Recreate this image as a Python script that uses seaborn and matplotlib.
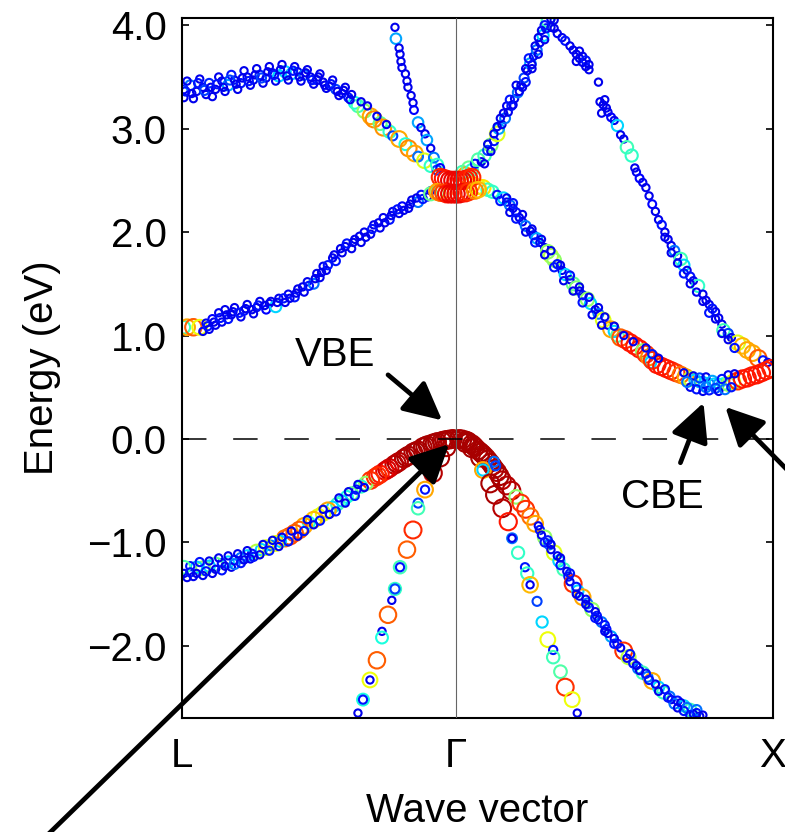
import matplotlib
matplotlib.use("Agg")
import matplotlib.pyplot as plt
import pandas as pd
import seaborn as sns

# k-path L -> Gamma -> X in units of 2*pi/a (|L-Gamma| = sqrt(3)/2)
K_L, K_G, K_X = -0.866, 0.0, 1.0
k_ticks = [K_L, K_G, K_X]
k_tick_labels = ["L", "Γ", "X"]
e_ticks = [-2.0, -1.0, 0.0, 1.0, 2.0, 3.0, 4.0]
e_tick_labels = ["−2.0", "−1.0", "0.0", "1.0", "2.0", "3.0", "4.0"]
E_MIN, E_MAX = -2.693, 4.07

# Unfolded bands: (k, energy [eV], Bloch spectral weight 0..1)
cb_upper_left = [
    (-0.86, 3.38, 0.08), (-0.84, 3.42, 0.2), (-0.82, 3.36, 0.05), (-0.80, 3.40, 0.05),
    (-0.78, 3.44, 0.12), (-0.76, 3.38, 0.05), (-0.74, 3.46, 0.05), (-0.72, 3.42, 0.25),
    (-0.70, 3.47, 0.05), (-0.68, 3.44, 0.1), (-0.66, 3.50, 0.05), (-0.64, 3.47, 0.05),
    (-0.62, 3.52, 0.12), (-0.60, 3.49, 0.05), (-0.58, 3.54, 0.05), (-0.56, 3.51, 0.3),
    (-0.54, 3.55, 0.3), (-0.52, 3.53, 0.28), (-0.50, 3.55, 0.05), (-0.48, 3.52, 0.2),
    (-0.46, 3.50, 0.05), (-0.44, 3.47, 0.1), (-0.42, 3.45, 0.05), (-0.40, 3.41, 0.05),
    (-0.38, 3.38, 0.15), (-0.36, 3.34, 0.05), (-0.34, 3.30, 0.1), (-0.32, 3.25, 0.35),
    (-0.31, 3.22, 0.4), (-0.29, 3.17, 0.5), (-0.27, 3.12, 0.72), (-0.26, 3.09, 0.75),
    (-0.24, 3.05, 0.45), (-0.23, 3.01, 0.74), (-0.21, 2.97, 0.38), (-0.20, 2.93, 0.15),
    (-0.18, 2.90, 0.72), (-0.16, 2.85, 0.35), (-0.15, 2.81, 0.75), (-0.13, 2.76, 0.72),
    (-0.12, 2.73, 0.2), (-0.10, 2.69, 0.6), (-0.08, 2.64, 0.38), (-0.06, 2.60, 0.15),
    (-0.86, 3.30, 0.05), (-0.85, 3.46, 0.05), (-0.83, 3.29, 0.05), (-0.81, 3.48, 0.05),
    (-0.79, 3.33, 0.05), (-0.77, 3.31, 0.05), (-0.75, 3.50, 0.05), (-0.73, 3.36, 0.05),
    (-0.71, 3.52, 0.1), (-0.69, 3.38, 0.05), (-0.67, 3.56, 0.05), (-0.65, 3.42, 0.05),
    (-0.63, 3.58, 0.05), (-0.61, 3.44, 0.05), (-0.59, 3.60, 0.05), (-0.57, 3.46, 0.05),
    (-0.55, 3.62, 0.05), (-0.53, 3.47, 0.05), (-0.51, 3.60, 0.05), (-0.49, 3.46, 0.05),
    (-0.47, 3.57, 0.05), (-0.45, 3.43, 0.05), (-0.43, 3.53, 0.05), (-0.41, 3.39, 0.05),
    (-0.39, 3.47, 0.05), (-0.37, 3.32, 0.05), (-0.35, 3.40, 0.05), (-0.33, 3.33, 0.05),
    (-0.30, 3.26, 0.05), (-0.28, 3.22, 0.05), (-0.25, 3.12, 0.05), (-0.22, 3.04, 0.05),
    (-0.855, 3.36, 0.1), (-0.835, 3.34, 0.05), (-0.815, 3.44, 0.1), (-0.795, 3.37, 0.15),
    (-0.775, 3.40, 0.05), (-0.755, 3.43, 0.1), (-0.735, 3.40, 0.05), (-0.715, 3.47, 0.15),
    (-0.695, 3.43, 0.05), (-0.675, 3.49, 0.05), (-0.655, 3.46, 0.1), (-0.635, 3.52, 0.05),
    (-0.615, 3.49, 0.15), (-0.595, 3.55, 0.05), (-0.575, 3.52, 0.1), (-0.555, 3.57, 0.05),
    (-0.535, 3.51, 0.05), (-0.515, 3.56, 0.1), (-0.495, 3.50, 0.05), (-0.475, 3.54, 0.05),
    (-0.455, 3.47, 0.1), (-0.435, 3.50, 0.05), (-0.415, 3.42, 0.05), (-0.395, 3.43, 0.1),
    (-0.375, 3.36, 0.05), (-0.355, 3.37, 0.05), (-0.335, 3.28, 0.05),
]

cb_lower_left = [
    (-0.86, 1.08, 0.4), (-0.85, 1.08, 0.72), (-0.83, 1.08, 0.8), (-0.81, 1.08, 0.62),
    (-0.80, 1.04, 0.05), (-0.79, 1.12, 0.05), (-0.78, 1.06, 0.05), (-0.77, 1.16, 0.08),
    (-0.76, 1.10, 0.05), (-0.75, 1.22, 0.05), (-0.74, 1.13, 0.05), (-0.73, 1.25, 0.05),
    (-0.72, 1.16, 0.1), (-0.71, 1.20, 0.05), (-0.70, 1.27, 0.05), (-0.68, 1.18, 0.05),
    (-0.67, 1.24, 0.1), (-0.66, 1.30, 0.05), (-0.64, 1.21, 0.05), (-0.63, 1.27, 0.05),
    (-0.62, 1.33, 0.05), (-0.60, 1.25, 0.08), (-0.59, 1.31, 0.05), (-0.57, 1.28, 0.3),
    (-0.56, 1.36, 0.05), (-0.54, 1.32, 0.05), (-0.53, 1.40, 0.05), (-0.51, 1.37, 0.1),
    (-0.50, 1.45, 0.05), (-0.48, 1.42, 0.05), (-0.47, 1.52, 0.05), (-0.45, 1.50, 0.2),
    (-0.44, 1.60, 0.05), (-0.43, 1.56, 0.05), (-0.42, 1.67, 0.05), (-0.41, 1.63, 0.05),
    (-0.39, 1.75, 0.05), (-0.38, 1.72, 0.1), (-0.36, 1.80, 0.05), (-0.35, 1.86, 0.05),
    (-0.33, 1.84, 0.05), (-0.32, 1.93, 0.05), (-0.30, 1.90, 0.05), (-0.29, 2.00, 0.05),
    (-0.27, 1.98, 0.05), (-0.26, 2.07, 0.05), (-0.24, 2.04, 0.05), (-0.23, 2.14, 0.05),
    (-0.21, 2.12, 0.1), (-0.20, 2.20, 0.05), (-0.18, 2.18, 0.05), (-0.17, 2.25, 0.08),
    (-0.15, 2.23, 0.05), (-0.14, 2.31, 0.05), (-0.12, 2.29, 0.2), (-0.11, 2.36, 0.1),
    (-0.09, 2.34, 0.05), (-0.08, 2.40, 0.05), (-0.06, 2.38, 0.48),
    (-0.785, 1.09, 0.1), (-0.765, 1.13, 0.05), (-0.745, 1.17, 0.1), (-0.725, 1.20, 0.05),
    (-0.705, 1.23, 0.05), (-0.685, 1.22, 0.1), (-0.665, 1.26, 0.05), (-0.645, 1.25, 0.05),
    (-0.625, 1.29, 0.1), (-0.605, 1.29, 0.05), (-0.585, 1.33, 0.05), (-0.565, 1.32, 0.05),
    (-0.545, 1.36, 0.1), (-0.525, 1.36, 0.05), (-0.505, 1.41, 0.05), (-0.485, 1.47, 0.05),
    (-0.465, 1.48, 0.1), (-0.445, 1.55, 0.05), (-0.425, 1.61, 0.05), (-0.405, 1.68, 0.1),
    (-0.385, 1.78, 0.05), (-0.365, 1.84, 0.05), (-0.345, 1.89, 0.1), (-0.325, 1.90, 0.05),
    (-0.305, 1.96, 0.05), (-0.285, 1.95, 0.05), (-0.265, 2.03, 0.1), (-0.245, 2.09, 0.05),
    (-0.225, 2.09, 0.05), (-0.205, 2.16, 0.05), (-0.185, 2.22, 0.1), (-0.165, 2.21, 0.05),
    (-0.145, 2.27, 0.05), (-0.125, 2.33, 0.05), (-0.105, 2.32, 0.1),
]

cb_steep_left = [
    (-0.193, 3.98, 0.05), (-0.19, 3.87, 0.25), (-0.18, 3.78, 0.05), (-0.177, 3.72, 0.05),
    (-0.174, 3.65, 0.05), (-0.171, 3.59, 0.05), (-0.16, 3.53, 0.05), (-0.155, 3.46, 0.05),
    (-0.152, 3.40, 0.05), (-0.142, 3.32, 0.05), (-0.136, 3.25, 0.05), (-0.133, 3.18, 0.08),
    (-0.12, 3.06, 0.25), (-0.111, 3.01, 0.05), (-0.098, 2.95, 0.05), (-0.092, 2.89, 0.25),
    (-0.08, 2.81, 0.05), (-0.07, 2.72, 0.2), (-0.06, 2.65, 0.38), (-0.05, 2.62, 0.08),
]

cb_gamma = [
    (-0.05, 2.53, 0.86), (-0.04, 2.52, 0.88), (-0.03, 2.51, 0.88), (-0.02, 2.50, 0.9),
    (-0.01, 2.50, 0.9), (0.0, 2.50, 0.9), (0.01, 2.50, 0.9), (0.02, 2.50, 0.9),
    (0.03, 2.51, 0.88), (0.04, 2.52, 0.88), (0.05, 2.53, 0.86),
    (-0.08, 2.37, 0.45), (-0.06, 2.39, 0.72), (-0.05, 2.38, 0.78), (-0.04, 2.38, 0.82),
    (-0.03, 2.37, 0.88), (-0.02, 2.37, 0.9), (-0.01, 2.37, 0.9), (0.0, 2.37, 0.9),
    (0.01, 2.37, 0.9), (0.02, 2.38, 0.9), (0.03, 2.38, 0.88), (0.04, 2.39, 0.85),
    (0.06, 2.40, 0.75), (0.07, 2.41, 0.7),
]

cb_upper_right = [
    (0.02, 2.58, 0.4), (0.03, 2.55, 0.72), (0.04, 2.62, 0.45), (0.05, 2.60, 0.38),
    (0.06, 2.66, 0.1), (0.07, 2.70, 0.42), (0.08, 2.68, 0.05), (0.09, 2.74, 0.4),
    (0.10, 2.79, 0.15), (0.11, 2.84, 0.48), (0.12, 2.88, 0.1), (0.13, 2.95, 0.6),
    (0.135, 3.00, 0.25), (0.145, 3.04, 0.05), (0.155, 3.10, 0.2), (0.165, 3.16, 0.05),
    (0.175, 3.22, 0.1), (0.185, 3.29, 0.05), (0.195, 3.35, 0.2), (0.205, 3.42, 0.05),
    (0.215, 3.49, 0.15), (0.225, 3.56, 0.05), (0.235, 3.63, 0.25), (0.245, 3.70, 0.05),
    (0.255, 3.76, 0.2), (0.265, 3.83, 0.05), (0.275, 3.90, 0.3), (0.285, 3.97, 0.1),
    (0.29, 4.04, 0.4), (0.30, 4.06, 0.05),
    (0.09, 2.66, 0.05), (0.12, 2.95, 0.05), (0.14, 3.10, 0.05), (0.16, 3.22, 0.05),
    (0.18, 3.23, 0.05), (0.20, 3.36, 0.05), (0.22, 3.58, 0.05), (0.22, 3.45, 0.1),
    (0.24, 3.62, 0.05), (0.25, 3.80, 0.05), (0.26, 3.72, 0.05), (0.27, 3.95, 0.05),
    (0.28, 3.86, 0.05), (0.30, 3.98, 0.05), (0.31, 4.05, 0.05),
    (0.10, 2.85, 0.05), (0.11, 2.78, 0.05), (0.13, 3.02, 0.05), (0.15, 3.15, 0.05),
    (0.17, 3.28, 0.1), (0.19, 3.42, 0.05), (0.21, 3.40, 0.05), (0.23, 3.68, 0.1),
    (0.24, 3.58, 0.05), (0.26, 3.88, 0.05), (0.28, 4.00, 0.1),
    (0.31, 3.97, 0.05), (0.32, 3.92, 0.05), (0.335, 3.88, 0.05), (0.345, 3.85, 0.1),
    (0.36, 3.80, 0.05), (0.37, 3.76, 0.05), (0.38, 3.72, 0.05), (0.39, 3.68, 0.05),
    (0.40, 3.64, 0.05), (0.41, 3.60, 0.05), (0.42, 3.57, 0.05), (0.45, 3.45, 0.05),
    (0.38, 3.65, 0.05), (0.39, 3.75, 0.05), (0.40, 3.70, 0.05), (0.41, 3.66, 0.1),
    (0.42, 3.62, 0.05),
    (0.455, 3.26, 0.05), (0.465, 3.23, 0.05), (0.475, 3.20, 0.05), (0.48, 3.16, 0.05),
    (0.46, 3.15, 0.05), (0.47, 3.28, 0.05),
    (0.49, 3.11, 0.08), (0.50, 3.08, 0.05), (0.51, 3.03, 0.3), (0.52, 2.94, 0.05),
    (0.53, 2.90, 0.05), (0.54, 2.82, 0.4), (0.555, 2.74, 0.38), (0.565, 2.62, 0.05),
    (0.57, 2.58, 0.05), (0.58, 2.52, 0.08), (0.59, 2.48, 0.05), (0.60, 2.43, 0.05),
    (0.61, 2.35, 0.05), (0.62, 2.27, 0.08), (0.63, 2.20, 0.05), (0.64, 2.12, 0.05),
    (0.65, 2.07, 0.1), (0.66, 2.00, 0.05), (0.67, 1.93, 0.05), (0.68, 1.87, 0.05),
    (0.69, 1.82, 0.2), (0.70, 1.77, 0.05), (0.71, 1.74, 0.4), (0.72, 1.68, 0.3),
    (0.73, 1.63, 0.05), (0.74, 1.57, 0.1), (0.75, 1.53, 0.05), (0.765, 1.48, 0.38),
    (0.78, 1.40, 0.05), (0.79, 1.34, 0.05), (0.80, 1.30, 0.05), (0.81, 1.26, 0.1),
    (0.82, 1.23, 0.05), (0.83, 1.17, 0.05), (0.84, 1.11, 0.05), (0.845, 1.05, 0.4),
    (0.86, 1.02, 0.15), (0.87, 0.98, 0.05), (0.89, 0.93, 0.6), (0.905, 0.90, 0.7),
    (0.92, 0.86, 0.72), (0.937, 0.83, 0.72), (0.955, 0.78, 0.8), (0.97, 0.76, 0.1),
    (0.985, 0.74, 0.05),
    (0.66, 1.95, 0.05), (0.68, 1.80, 0.05), (0.70, 1.70, 0.05), (0.72, 1.60, 0.1),
    (0.74, 1.50, 0.05), (0.76, 1.42, 0.05), (0.78, 1.33, 0.05), (0.80, 1.22, 0.1),
    (0.82, 1.16, 0.05), (0.84, 1.02, 0.05), (0.86, 0.96, 0.05), (0.88, 0.88, 0.1),
]

cb_lower_right = [
    (0.05, 2.46, 0.72), (0.07, 2.44, 0.6), (0.085, 2.43, 0.65), (0.10, 2.41, 0.4),
    (0.115, 2.39, 0.38), (0.13, 2.36, 0.1), (0.15, 2.33, 0.3), (0.16, 2.29, 0.05),
    (0.17, 2.26, 0.2), (0.18, 2.23, 0.05), (0.19, 2.19, 0.1), (0.20, 2.14, 0.05),
    (0.21, 2.10, 0.05), (0.22, 2.06, 0.2), (0.235, 2.01, 0.05), (0.245, 1.97, 0.1),
    (0.255, 1.94, 0.25), (0.265, 1.90, 0.05), (0.28, 1.85, 0.05), (0.29, 1.81, 0.5),
    (0.30, 1.77, 0.55), (0.31, 1.73, 0.5), (0.32, 1.69, 0.1), (0.335, 1.63, 0.05),
    (0.345, 1.59, 0.3), (0.36, 1.54, 0.05), (0.37, 1.50, 0.45), (0.38, 1.46, 0.48),
    (0.39, 1.43, 0.05), (0.40, 1.39, 0.1), (0.415, 1.35, 0.5), (0.425, 1.31, 0.3),
    (0.44, 1.25, 0.05), (0.45, 1.21, 0.2), (0.465, 1.15, 0.6), (0.48, 1.10, 0.05),
    (0.49, 1.06, 0.72), (0.50, 1.04, 0.3), (0.51, 1.00, 0.42), (0.52, 0.98, 0.8),
    (0.535, 0.96, 0.85), (0.55, 0.93, 0.88), (0.565, 0.90, 0.88), (0.58, 0.87, 0.88),
    (0.59, 0.85, 0.5), (0.60, 0.82, 0.85), (0.61, 0.79, 0.75), (0.615, 0.74, 0.3),
    (0.62, 0.76, 0.85), (0.635, 0.72, 0.88), (0.65, 0.70, 0.88), (0.665, 0.68, 0.88),
    (0.68, 0.66, 0.88), (0.695, 0.64, 0.85), (0.71, 0.62, 0.78), (0.725, 0.60, 0.72),
    (0.74, 0.58, 0.55), (0.755, 0.57, 0.3), (0.77, 0.55, 0.25), (0.785, 0.54, 0.3),
    (0.80, 0.53, 0.2), (0.815, 0.53, 0.3), (0.83, 0.53, 0.25), (0.845, 0.53, 0.35),
    (0.86, 0.53, 0.5), (0.875, 0.55, 0.6), (0.89, 0.56, 0.85), (0.905, 0.58, 0.88),
    (0.92, 0.59, 0.88), (0.935, 0.61, 0.88), (0.95, 0.62, 0.88), (0.965, 0.64, 0.88),
    (0.98, 0.66, 0.88), (0.995, 0.68, 0.87),
    (0.74, 0.50, 0.05), (0.75, 0.61, 0.05), (0.76, 0.48, 0.1), (0.77, 0.59, 0.15),
    (0.78, 0.46, 0.05), (0.79, 0.50, 0.2), (0.79, 0.60, 0.05), (0.80, 0.47, 0.1),
    (0.81, 0.56, 0.25), (0.82, 0.49, 0.15), (0.83, 0.46, 0.05), (0.84, 0.58, 0.1),
    (0.85, 0.48, 0.2), (0.86, 0.62, 0.05), (0.87, 0.50, 0.1), (0.88, 0.63, 0.05),
    (0.72, 0.64, 0.05), (0.73, 0.55, 0.2),
    (0.16, 2.33, 0.05), (0.18, 2.28, 0.1), (0.21, 2.17, 0.05), (0.24, 2.03, 0.05),
    (0.27, 1.93, 0.05), (0.30, 1.82, 0.05), (0.33, 1.68, 0.05), (0.36, 1.58, 0.1),
    (0.39, 1.47, 0.05), (0.42, 1.37, 0.05), (0.45, 1.27, 0.05), (0.47, 1.18, 0.05),
    (0.50, 1.09, 0.05), (0.53, 1.00, 0.05), (0.56, 0.94, 0.05), (0.60, 0.88, 0.05),
    (0.62, 0.82, 0.1), (0.64, 0.78, 0.05),
    (0.14, 2.30, 0.1), (0.17, 2.19, 0.05), (0.19, 2.13, 0.1), (0.22, 2.00, 0.05),
    (0.25, 1.90, 0.1), (0.28, 1.78, 0.05), (0.31, 1.66, 0.1), (0.34, 1.53, 0.05),
    (0.37, 1.43, 0.05), (0.40, 1.32, 0.1), (0.43, 1.20, 0.05), (0.46, 1.10, 0.05),
]

vb_heavy_left = [
    (-0.01, 0.00, 0.96), (-0.02, -0.005, 0.96), (-0.03, -0.01, 0.96), (-0.045, -0.02, 0.96),
    (-0.06, -0.03, 0.96), (-0.075, -0.045, 0.96), (-0.09, -0.06, 0.96), (-0.105, -0.08, 0.96),
    (-0.12, -0.11, 0.96), (-0.135, -0.13, 0.96), (-0.15, -0.16, 0.96), (-0.165, -0.19, 0.95),
    (-0.18, -0.22, 0.95), (-0.195, -0.25, 0.95), (-0.21, -0.28, 0.93), (-0.225, -0.31, 0.9),
    (-0.24, -0.34, 0.88), (-0.255, -0.37, 0.85), (-0.27, -0.40, 0.85), (-0.285, -0.43, 0.5),
    (-0.30, -0.46, 0.38), (-0.315, -0.49, 0.1), (-0.33, -0.53, 0.45), (-0.345, -0.56, 0.35),
    (-0.36, -0.60, 0.3), (-0.375, -0.63, 0.4), (-0.39, -0.66, 0.3), (-0.405, -0.69, 0.72),
    (-0.42, -0.72, 0.6), (-0.435, -0.75, 0.62), (-0.45, -0.78, 0.7), (-0.465, -0.81, 0.35),
    (-0.48, -0.84, 0.72), (-0.495, -0.88, 0.8), (-0.51, -0.91, 0.8), (-0.525, -0.94, 0.82),
    (-0.54, -0.96, 0.78), (-0.555, -0.99, 0.3), (-0.57, -1.01, 0.62), (-0.585, -1.03, 0.2),
    (-0.60, -1.05, 0.6), (-0.615, -1.07, 0.3), (-0.63, -1.09, 0.55), (-0.645, -1.11, 0.1),
    (-0.66, -1.13, 0.3), (-0.68, -1.15, 0.2), (-0.70, -1.17, 0.1), (-0.72, -1.19, 0.3),
    (-0.74, -1.20, 0.1), (-0.76, -1.21, 0.45), (-0.78, -1.23, 0.3), (-0.80, -1.25, 0.5),
    (-0.82, -1.24, 0.3), (-0.84, -1.23, 0.1), (-0.86, -1.24, 0.42),
    (-0.0375, -0.015, 0.96), (-0.0675, -0.04, 0.96), (-0.0975, -0.07, 0.96),
    (-0.1275, -0.12, 0.96), (-0.1575, -0.175, 0.96), (-0.1875, -0.235, 0.95),
    (-0.2175, -0.295, 0.92), (-0.2475, -0.355, 0.86),
    (-0.86, -1.30, 0.05), (-0.85, -1.34, 0.05), (-0.84, -1.29, 0.1), (-0.83, -1.33, 0.05),
    (-0.82, -1.30, 0.05), (-0.81, -1.19, 0.1), (-0.80, -1.32, 0.05), (-0.79, -1.28, 0.1),
    (-0.78, -1.18, 0.05), (-0.77, -1.30, 0.05), (-0.76, -1.26, 0.05), (-0.75, -1.15, 0.05),
    (-0.74, -1.27, 0.1), (-0.73, -1.23, 0.05), (-0.72, -1.13, 0.05), (-0.71, -1.24, 0.05),
    (-0.70, -1.21, 0.2), (-0.69, -1.11, 0.05), (-0.68, -1.20, 0.1), (-0.67, -1.17, 0.05),
    (-0.66, -1.08, 0.05), (-0.65, -1.16, 0.05), (-0.64, -1.14, 0.1), (-0.62, -1.12, 0.05),
    (-0.61, -1.02, 0.05), (-0.59, -1.08, 0.1), (-0.58, -0.98, 0.05), (-0.56, -1.04, 0.05),
    (-0.55, -0.95, 0.05), (-0.53, -0.99, 0.1), (-0.52, -0.89, 0.05), (-0.50, -0.94, 0.05),
    (-0.48, -0.89, 0.1), (-0.47, -0.78, 0.05), (-0.45, -0.83, 0.05), (-0.43, -0.79, 0.1),
    (-0.42, -0.68, 0.05), (-0.40, -0.73, 0.05), (-0.38, -0.70, 0.1), (-0.37, -0.57, 0.05),
    (-0.35, -0.62, 0.05), (-0.34, -0.51, 0.05), (-0.32, -0.55, 0.1), (-0.31, -0.44, 0.05),
    (-0.29, -0.47, 0.05),
]

vb_light_left = [
    (-0.03, -0.08, 0.96), (-0.05, -0.18, 0.96), (-0.073, -0.33, 0.95), (-0.098, -0.49, 0.72),
    (-0.098, -0.49, 0.1), (-0.12, -0.62, 0.15), (-0.12, -0.67, 0.4), (-0.136, -0.88, 0.86),
    (-0.155, -1.07, 0.8), (-0.177, -1.24, 0.4), (-0.177, -1.24, 0.1), (-0.193, -1.45, 0.38),
    (-0.193, -1.45, 0.15), (-0.203, -1.56, 0.05), (-0.215, -1.70, 0.8), (-0.234, -1.86, 0.05),
    (-0.234, -1.92, 0.35), (-0.25, -2.14, 0.8), (-0.272, -2.33, 0.62), (-0.272, -2.33, 0.05),
    (-0.294, -2.52, 0.35), (-0.294, -2.52, 0.1), (-0.31, -2.65, 0.05),
]

vb_heavy_right = [
    (0.01, 0.00, 0.96), (0.02, -0.005, 0.96), (0.03, -0.015, 0.96), (0.04, -0.03, 0.96),
    (0.05, -0.05, 0.96), (0.06, -0.08, 0.96), (0.07, -0.11, 0.96), (0.085, -0.15, 0.96),
    (0.10, -0.20, 0.96), (0.115, -0.26, 0.96), (0.13, -0.32, 0.96), (0.145, -0.40, 0.95),
    (0.16, -0.45, 0.95), (0.175, -0.50, 0.95), (0.19, -0.56, 0.5), (0.205, -0.62, 0.85),
    (0.22, -0.68, 0.85), (0.235, -0.75, 0.78), (0.25, -0.82, 0.72), (0.265, -0.88, 0.1),
    (0.28, -0.95, 0.5), (0.295, -1.02, 0.2), (0.31, -1.10, 0.6), (0.325, -1.18, 0.3),
    (0.34, -1.26, 0.4), (0.355, -1.33, 0.1), (0.37, -1.40, 0.85), (0.385, -1.47, 0.3),
    (0.40, -1.53, 0.72), (0.415, -1.59, 0.2), (0.43, -1.65, 0.5), (0.445, -1.71, 0.1),
    (0.46, -1.77, 0.2), (0.475, -1.84, 0.1), (0.49, -1.91, 0.25), (0.51, -1.98, 0.1),
    (0.53, -2.05, 0.85), (0.545, -2.11, 0.55), (0.56, -2.17, 0.1), (0.575, -2.22, 0.2),
    (0.59, -2.26, 0.4), (0.605, -2.30, 0.2), (0.62, -2.34, 0.72), (0.64, -2.40, 0.3),
    (0.655, -2.45, 0.4), (0.675, -2.49, 0.2), (0.70, -2.53, 0.1), (0.72, -2.58, 0.3),
    (0.74, -2.62, 0.4), (0.76, -2.65, 0.1), (0.77, -2.68, 0.05),
    (0.035, -0.02, 0.96), (0.055, -0.065, 0.96), (0.078, -0.13, 0.96), (0.093, -0.175, 0.96),
    (0.108, -0.23, 0.96), (0.122, -0.29, 0.96), (0.138, -0.36, 0.96),
    (0.26, -0.84, 0.05), (0.27, -0.93, 0.05), (0.29, -0.98, 0.1), (0.30, -1.07, 0.05),
    (0.32, -1.13, 0.05), (0.33, -1.22, 0.1), (0.35, -1.28, 0.05), (0.36, -1.38, 0.05),
    (0.38, -1.43, 0.1), (0.39, -1.52, 0.05), (0.41, -1.55, 0.05), (0.42, -1.63, 0.1),
    (0.44, -1.67, 0.05), (0.45, -1.75, 0.05), (0.47, -1.80, 0.1), (0.48, -1.88, 0.05),
    (0.50, -1.93, 0.05), (0.52, -2.02, 0.05), (0.55, -2.08, 0.1), (0.57, -2.19, 0.05),
    (0.60, -2.27, 0.1), (0.63, -2.37, 0.05), (0.66, -2.42, 0.1), (0.68, -2.52, 0.05),
    (0.69, -2.56, 0.2), (0.71, -2.55, 0.05), (0.72, -2.63, 0.1), (0.73, -2.60, 0.2),
    (0.75, -2.66, 0.05), (0.76, -2.62, 0.2), (0.78, -2.67, 0.05),
    (0.28, -1.00, 0.1), (0.30, -1.02, 0.05), (0.33, -1.15, 0.05), (0.36, -1.30, 0.1),
    (0.38, -1.50, 0.05), (0.41, -1.60, 0.05), (0.44, -1.73, 0.1), (0.47, -1.86, 0.05),
    (0.50, -1.98, 0.1), (0.54, -2.12, 0.05), (0.58, -2.24, 0.05), (0.61, -2.33, 0.1),
    (0.64, -2.44, 0.05), (0.67, -2.50, 0.1), (0.70, -2.60, 0.05), (0.74, -2.67, 0.1),
]

vb_light_right = [
    (0.03, -0.04, 0.96), (0.05, -0.09, 0.96), (0.076, -0.18, 0.96), (0.085, -0.30, 0.72),
    (0.085, -0.30, 0.3), (0.12, -0.22, 0.2), (0.125, -0.26, 0.15), (0.108, -0.43, 0.96),
    (0.123, -0.54, 0.96), (0.146, -0.67, 0.95), (0.165, -0.80, 0.88), (0.177, -0.96, 0.2),
    (0.177, -0.96, 0.05), (0.196, -1.10, 0.38), (0.218, -1.24, 0.1), (0.225, -1.30, 0.38),
    (0.234, -1.41, 0.7), (0.234, -1.41, 0.05), (0.256, -1.57, 0.15), (0.272, -1.77, 0.3),
    (0.29, -1.94, 0.62), (0.307, -2.04, 0.1), (0.307, -2.11, 0.4), (0.33, -2.25, 0.42),
    (0.345, -2.40, 0.85), (0.367, -2.52, 0.62), (0.383, -2.65, 0.05),
]

bands = {
    "cb_upper_left": cb_upper_left,
    "cb_lower_left": cb_lower_left,
    "cb_steep_left": cb_steep_left,
    "cb_upper_right": cb_upper_right,
    "cb_lower_right": cb_lower_right,
    "cb_gamma": cb_gamma,
    "vb_heavy_left": vb_heavy_left,
    "vb_light_left": vb_light_left,
    "vb_heavy_right": vb_heavy_right,
    "vb_light_right": vb_light_right,
}
df = pd.concat(
    [pd.DataFrame(pts, columns=["k", "E", "w"]).assign(band=name) for name, pts in bands.items()],
    ignore_index=True,
)

sns.set_style("white")
plt.rcParams["font.family"] = ["Liberation Sans", "DejaVu Sans"]
for key in ("text.color", "axes.labelcolor", "xtick.color", "ytick.color", "axes.edgecolor"):
    plt.rcParams[key] = "black"
FS = 29

fig = plt.figure(figsize=(7.85, 8.32), dpi=100)
W, H = 785.0, 832.0
ax = fig.add_axes([182 / W, 1 - 717.5 / H, (772.5 - 182) / W, (717.5 - 18) / H])

sns.scatterplot(
    data=df, x="k", y="E", hue="w", size="w",
    palette=matplotlib.colormaps["jet"], hue_norm=(-0.05, 1.0), size_norm=(0, 1),
    sizes=(20, 170), linewidth=1.5, legend=False, ax=ax, zorder=2,
)
# open circles: move the weight colour onto the edge
pts = ax.collections[0]
pts.set_edgecolors(pts.get_facecolors())
pts.set_facecolors("none")
pts.set_linewidths(1.5)

ax.axvline(K_G, color="0.4", lw=0.8, zorder=3)
ax.axhline(0.0, color="k", lw=1.1, dashes=(16, 17.5), zorder=3)

ax.set_xlim(K_L, K_X)
ax.set_ylim(E_MIN, E_MAX)
ax.set_xticks(k_ticks)
ax.set_xticklabels(k_tick_labels, fontsize=FS)
ax.set_yticks(e_ticks)
ax.set_yticklabels(e_tick_labels, fontsize=FS)
ax.tick_params(axis="y", direction="in", length=5, width=1.2, right=True, left=True, pad=11)
ax.tick_params(axis="x", length=0, pad=14)
for sp in ax.spines.values():
    sp.set_linewidth(1.5)
    sp.set_color("k")
    sp.set_visible(True)

ax.set_xlabel("Wave vector", fontsize=FS, labelpad=12)
ax.set_ylabel("Energy (eV)", fontsize=FS, labelpad=19)

arrow = dict(arrowstyle="-|>,head_length=0.9,head_width=0.45", mutation_scale=26,
             lw=3.4, color="k", shrinkA=0, shrinkB=0)
ax.annotate("", xy=(-0.044, 0.18), xytext=(-0.215, 0.62), arrowprops=arrow, zorder=4)
ax.text(-0.383, 0.708, "VBE", ha="center", va="baseline", fontsize=FS)
ax.annotate("", xy=(-0.022, -0.05), xytext=(30, -20), textcoords="figure pixels",
            arrowprops=arrow, annotation_clip=False, zorder=4)
ax.annotate("", xy=(0.782, 0.35), xytext=(0.709, -0.23), arrowprops=arrow, zorder=4)
ax.annotate("", xy=(0.851, 0.31), xytext=(805, 344), textcoords="figure pixels",
            arrowprops=arrow, annotation_clip=False, zorder=4)
ax.text(0.652, -0.664, "CBE", ha="center", va="baseline", fontsize=FS)

fig.savefig("out.png", dpi=100)
